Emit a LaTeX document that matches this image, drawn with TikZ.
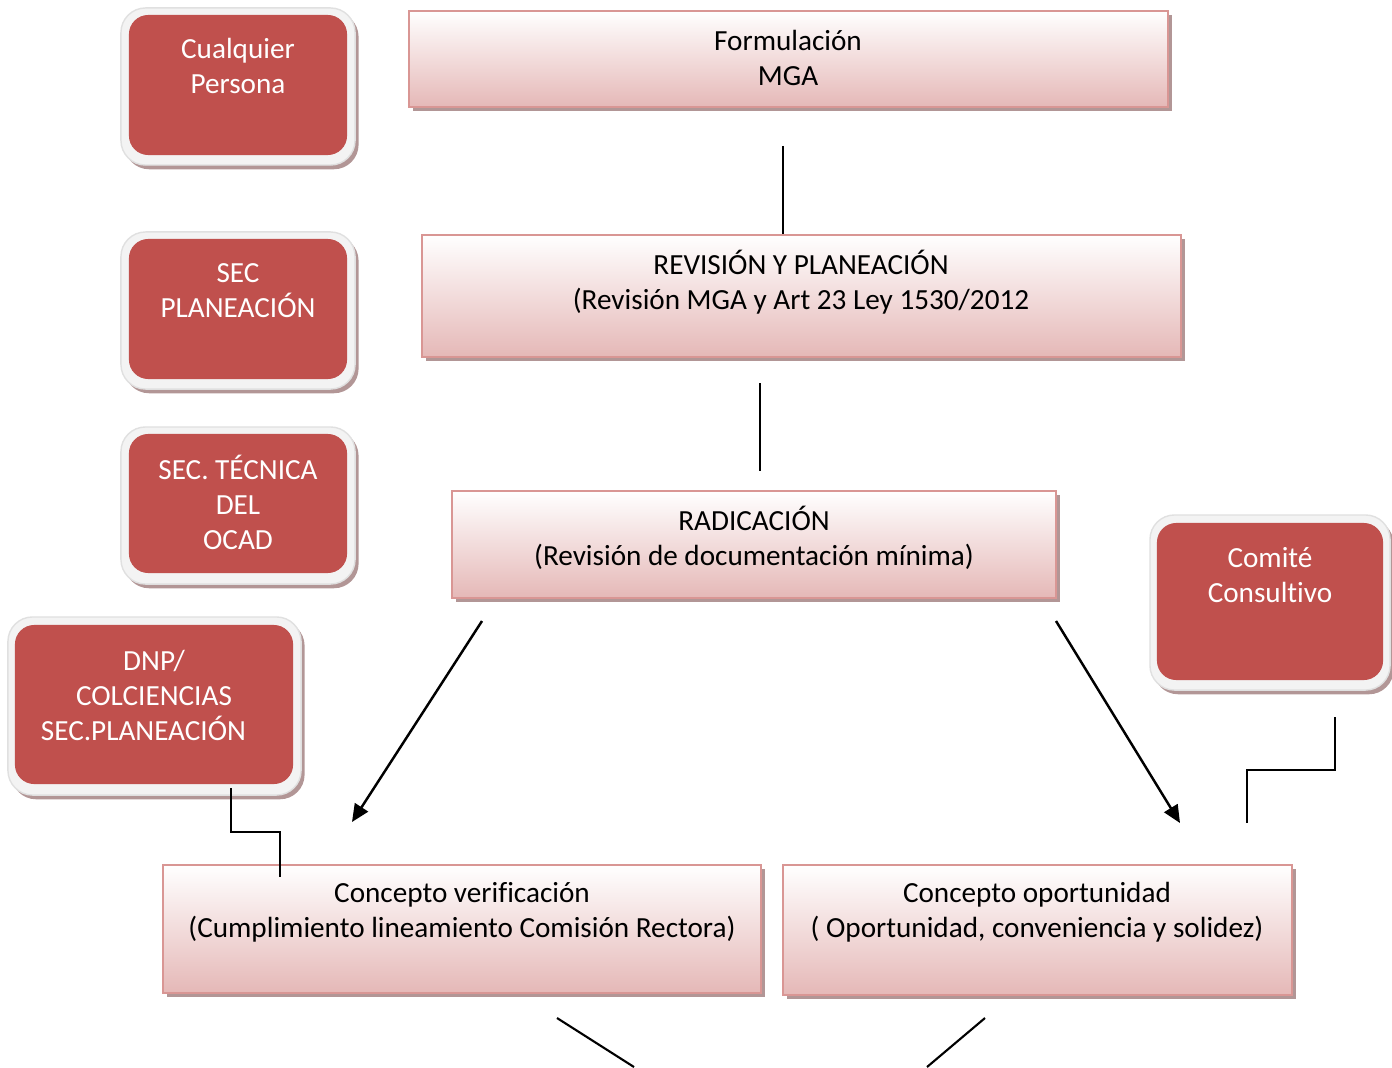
\documentclass[tikz,border=0pt]{standalone}
\usepackage{fontspec}
\setmainfont[Ligatures=NoCommon]{Carlito}
\usetikzlibrary{positioning, arrows.meta, shadows}
\definecolor{actred}{RGB}{192,80,77}
\definecolor{actrim}{RGB}{243,243,243}
\definecolor{stageline}{RGB}{217,150,148}
\definecolor{stagefade}{RGB}{229,184,183}
\definecolor{shade}{RGB}{178,150,150}
\tikzstyle{stage}=[rectangle, draw=stageline, line width=0.6pt, top color=white, bottom color=stagefade, inner sep=0pt, drop shadow={shadow xshift=1.1pt, shadow yshift=-1.1pt, fill=shade, opacity=1}]
\tikzstyle{rim}=[rectangle, rounded corners=7pt, draw=black!12, fill=actrim, inner sep=0pt, drop shadow={shadow xshift=1pt, shadow yshift=-1.2pt, fill=shade, opacity=1}]
\tikzstyle{actor}=[rectangle, rounded corners=5.5pt, fill=actred, inner sep=0pt]
\tikzstyle{lbl}=[align=center, inner sep=0pt, font=\fontsize{8.3}{9.96}\selectfont]
\tikzstyle{link}=[line width=0.6pt]
\tikzstyle{flow}=[line width=0.7pt, -{Triangle[length=5pt, width=4.4pt]}]

\begin{document}
\begin{tikzpicture}[x=0.01cm, y=-0.01cm]
            \useasboundingbox (0,0) rectangle (1392,1067);
            %etapas del proceso
            \node[stage, minimum width=7.59cm, minimum height=0.96cm](formul) at (788.5,59){};
            \node[lbl](formul-t) at (788,58){Formulación\\MGA};
            \node[stage, minimum width=7.59cm, minimum height=1.22cm](revis) at (801.5,296){};
            \node[lbl](revis-t) at (801,282){REVISIÓN Y PLANEACIÓN\\(Revisión MGA y Art 23 Ley 1530/2012};
            \node[stage, minimum width=6.04cm, minimum height=1.07cm](radic) at (754,544.5){};
            \node[lbl](radic-t) at (754,538){RADICACIÓN\\(Revisión de documentación mínima)};
            \node[stage, minimum width=5.98cm, minimum height=1.28cm](verif) at (462,929){};
            \node[lbl](verif-t) at (462,912){Concepto verificación\\(Cumplimiento lineamiento Comisión Rectora)};
            \node[stage, minimum width=5.09cm, minimum height=1.30cm](oport) at (1037.5,930){};
            \node[lbl](oport-t) at (1037,912){Concepto oportunidad\\( Oportunidad, conveniencia y solidez)};
            %responsables
            \node[rim, minimum width=2.34cm, minimum height=1.57cm](a1) at (238,86.5){};
            \node[actor, minimum width=2.18cm, minimum height=1.40cm](a1-in) at (238,85){};
            \node[lbl, text=white](a1-t) at (238,66){Cualquier\\Persona};
            \node[rim, minimum width=2.34cm, minimum height=1.57cm](a2) at (238,310.5){};
            \node[actor, minimum width=2.18cm, minimum height=1.40cm](a2-in) at (238,309){};
            \node[lbl, text=white](a2-t) at (238,290.5){SEC\\PLANEACIÓN};
            \node[rim, minimum width=2.34cm, minimum height=1.57cm](a3) at (238,505.5){};
            \node[actor, minimum width=2.18cm, minimum height=1.39cm](a3-in) at (238,503.5){};
            \node[lbl, text=white](a3-t) at (238,502.5){SEC. TÉCNICA\\DEL\\OCAD};
            \node[rim, minimum width=2.93cm, minimum height=1.78cm](a4) at (154.5,706){};
            \node[actor, minimum width=2.78cm, minimum height=1.59cm](a4-in) at (154,704.5){};
            \node[lbl, text=white](a4-t) at (154,695){DNP/\\COLCIENCIAS\\SEC.PLANEACIÓN\hspace*{6pt}};
            \node[rim, minimum width=2.40cm, minimum height=1.75cm](a5) at (1270,602.5){};
            \node[actor, minimum width=2.26cm, minimum height=1.57cm](a5-in) at (1270,601.5){};
            \node[lbl, text=white](a5-t) at (1270,575.5){Comité\\Consultivo};
            %conectores
            \coordinate(l1a) at (783,146); \coordinate(l1b) at (783,234);
            \coordinate(l2a) at (760,383); \coordinate(l2b) at (760,471);
            \coordinate(r1a) at (482,621); \coordinate(r1b) at (352,822);
            \coordinate(r2a) at (1056,621); \coordinate(r2b) at (1180,823);
            \coordinate(k1) at (1335,717); \coordinate(k2) at (1247,770); \coordinate(k3) at (1247,823);
            \coordinate(d1) at (231,788); \coordinate(d2) at (280,832); \coordinate(d3) at (280,877);
            \coordinate(b1a) at (557,1018); \coordinate(b1b) at (634,1067);
            \coordinate(b2a) at (985,1018); \coordinate(b2b) at (927,1067);
            \draw[link] (l1a) -- (l1b);
            \draw[link] (l2a) -- (l2b);
            \draw[flow] (r1a) -- (r1b);
            \draw[flow] (r2a) -- (r2b);
            \draw[link] (k1) |- (k2) -- (k3);
            \draw[link] (d1) |- (d2) -- (d3);
            \draw[link] (b1a) -- (b1b);
            \draw[link] (b2a) -- (b2b);
        \end{tikzpicture}
\end{document}
